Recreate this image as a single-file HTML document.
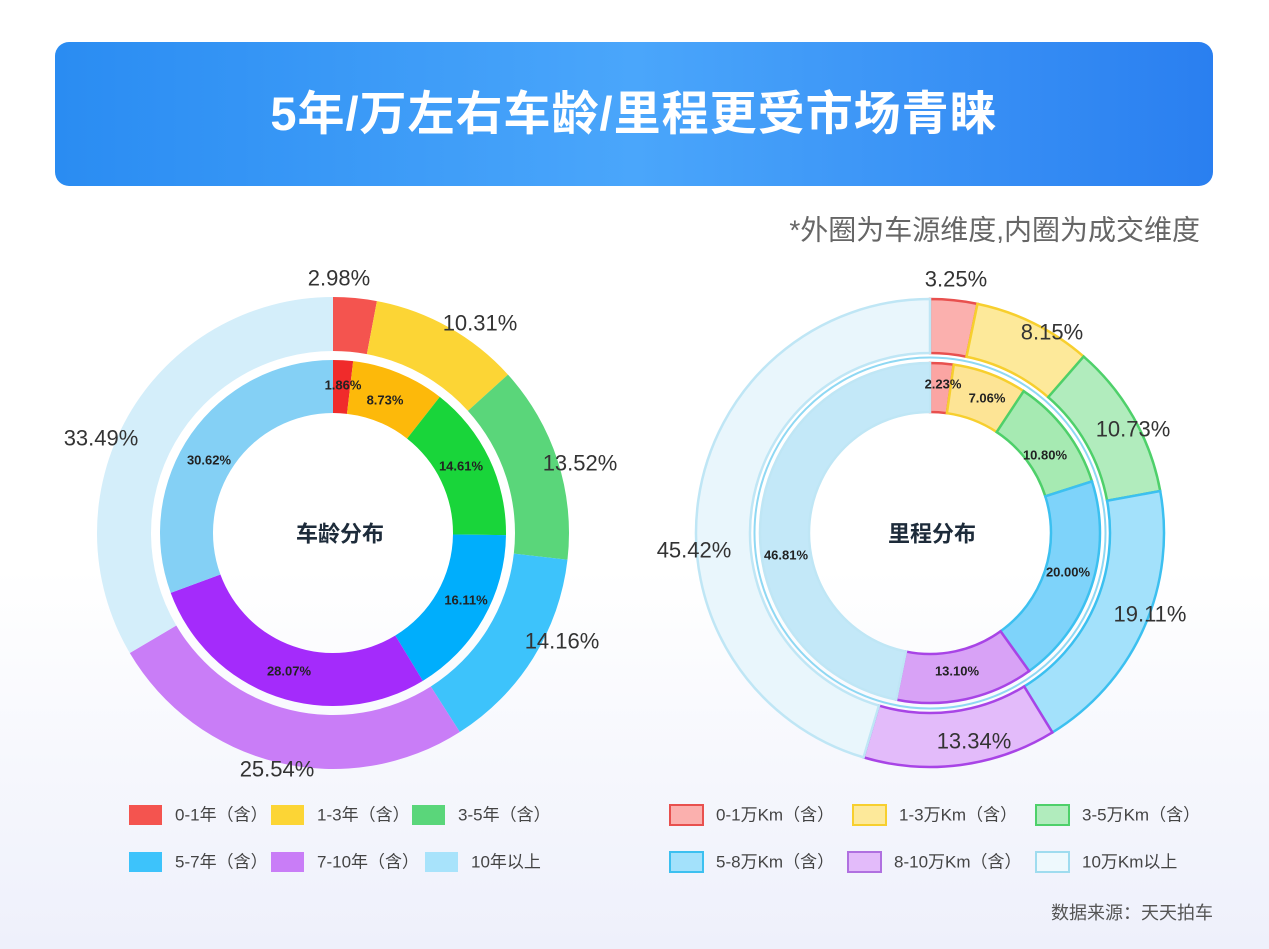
<!DOCTYPE html>
<html><head><meta charset="utf-8"><style>
body{margin:0;width:1269px;height:949px;overflow:hidden;background:linear-gradient(180deg,#fff 0%,#fff 60%,#eef0fb 100%);font-family:"Liberation Sans","Noto Sans CJK SC",sans-serif;}
.hdr{position:absolute;left:55px;top:42px;width:1158px;height:144px;border-radius:14px;background:linear-gradient(90deg,#2a8cf2,#4aa6fb 50%,#2a7ff0);color:#fff;font-weight:bold;font-size:47px;text-align:center;line-height:144px;letter-spacing:1px}
</style></head><body>
<div class="hdr">5年/万左右车龄/里程更受市场青睐</div>
<svg id="s" width="1269" height="949" style="position:absolute;left:0;top:0" font-family="Liberation Sans, Noto Sans CJK SC, sans-serif"></svg>
<script>
var s=document.getElementById('s'),h='';
function arc(cx,cy,r0,r1,a0,a1){var f=function(r,a){a=(a-90)*Math.PI/180;return (cx+r*Math.cos(a)).toFixed(2)+' '+(cy+r*Math.sin(a)).toFixed(2)};var l=(a1-a0)>180?1:0;
return 'M'+f(r1,a0)+' A'+r1+' '+r1+' 0 '+l+' 1 '+f(r1,a1)+' L'+f(r0,a1)+' A'+r0+' '+r0+' 0 '+l+' 0 '+f(r0,a0)+'Z';}
function ring(cx,cy,r0,r1,vals,fills,strokes,sw){var a=0;vals.forEach(function(v,i){var b=a+v*3.6;if(i==vals.length-1)b=360-0.001;h+='<path d="'+arc(cx,cy,r0,r1,a,b)+'" fill="'+fills[i]+'" stroke="'+(strokes?strokes[i]:'none')+'" stroke-width="'+(sw||0)+'"/>';a=b;});}
ring(333,533,182,236,[2.98,10.31,13.52,14.16,25.54,33.49],['#f4544f','#fcd535','#5ad67a','#3dc3fb','#c97df7','#d4eefa']);
ring(333,533,120,173,[1.86,8.73,14.61,16.11,28.07,30.62],['#f02b2b','#fdb90a','#19d53a','#00aefc','#a42bfb','#84d0f5']);
var st=['#e8504e','#f7cf2e','#4ed06a','#3cc0f0','#a844e6','#bfe6f5'];
ring(930,533,180,234,[3.25,8.15,10.73,19.11,13.34,45.42],['#fbb0ae','#fde99a','#b1ecbd','#a3e1fb','#e3bbfa','#e9f6fc'],st,2.5);
h+='<circle cx="930" cy="533" r="175.5" fill="none" stroke="#8fd8f3" stroke-width="2"/>';
ring(930,533,121,170,[2.23,7.06,10.80,20.00,13.10,46.81],['#fba5a3','#fde495','#a6eab2','#7ed3fa','#d8a2f6','#c3e8f8'],st,2.5);
function t(x,y,txt,sz,c,w,anc){h+='<text x="'+x+'" y="'+y+'" font-size="'+sz+'" fill="'+c+'" font-weight="'+(w||'normal')+'" text-anchor="'+(anc||'middle')+'" dominant-baseline="central">'+txt+'</text>';}
[[339,278,'2.98%'],[480,323,'10.31%'],[580,463,'13.52%'],[562,641,'14.16%'],[277,769,'25.54%'],[101,438,'33.49%'],
[956,279,'3.25%'],[1052,332,'8.15%'],[1133,429,'10.73%'],[1150,614,'19.11%'],[974,741,'13.34%'],[694,550,'45.42%']].forEach(function(p){t(p[0],p[1],p[2],22,'#333');});
[[343,385,'1.86%'],[385,400,'8.73%'],[461,466,'14.61%'],[466,600,'16.11%'],[289,671,'28.07%'],[209,460,'30.62%'],
[943,384,'2.23%'],[987,398,'7.06%'],[1045,455,'10.80%'],[1068,572,'20.00%'],[957,671,'13.10%'],[786,555,'46.81%']].forEach(function(p){t(p[0],p[1],p[2],13,'#222','bold');});
t(340,534,'车龄分布',22,'#1d2b3a','bold');t(932,534,'里程分布',22,'#1d2b3a','bold');
t(1200,230,'*外圈为车源维度,内圈为成交维度',28,'#666','normal','end');
t(1213,913,'数据来源：天天拍车',18,'#555','normal','end');
function lg(x,y,f,sk,txt){h+='<rect x="'+x+'" y="'+(y-10)+'" width="33" height="20" fill="'+f+'" stroke="'+(sk||'none')+'" stroke-width="2"/>';t(x+46,y,txt,17,'#444','normal','start');}
lg(129,815,'#f4544f',0,'0-1年（含）');lg(271,815,'#fcd535',0,'1-3年（含）');lg(412,815,'#5ad67a',0,'3-5年（含）');
lg(129,862,'#3dc3fb',0,'5-7年（含）');lg(271,862,'#c97df7',0,'7-10年（含）');lg(425,862,'#a8e3fb',0,'10年以上');
lg(670,815,'#fbb0ae','#e8504e','0-1万Km（含）');lg(853,815,'#fde99a','#f7cf2e','1-3万Km（含）');lg(1036,815,'#b1ecbd','#4ed06a','3-5万Km（含）');
lg(670,862,'#a3e1fb','#3cc0f0','5-8万Km（含）');lg(848,862,'#e3bbfa','#b070e0','8-10万Km（含）');lg(1036,862,'#eef9fd','#9fdcef','10万Km以上');
s.innerHTML=h;
</script>
</body></html>
